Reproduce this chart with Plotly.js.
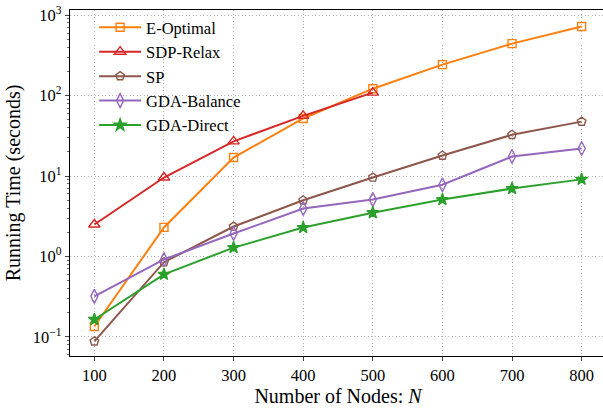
<!DOCTYPE html>
<html><head><meta charset="utf-8">
<script src="https://cdn.plot.ly/plotly-3.0.1.min.js"></script>
<style>html,body{margin:0;padding:0;background:#fff;overflow:hidden}#chart{width:606px;height:409px}</style>
</head><body><div id="chart"></div>
<script>
const nodes = [100, 200, 300, 400, 500, 600, 700, 800];
const sdpNodes = [100, 200, 300, 400, 500];
const eOptimal = [0.135, 2.3, 17, 52, 122, 243, 443, 722];
const sdpRelax = [2.5, 9.6, 27, 56, 109];
const sp = [0.088, 0.85, 2.36, 5.0, 9.6, 18, 32.6, 47.5];
const gdaBalance = [0.32, 0.92, 1.93, 3.95, 5.1, 7.8, 17.5, 22];
const gdaDirect = [0.165, 0.6, 1.29, 2.29, 3.5, 5.1, 7.0, 9.1];
const seriesNames = ['E-Optimal', 'SDP-Relax', 'SP', 'GDA-Balance', 'GDA-Direct'];
const yTickVals = [0.1, 1, 10, 100, 1000];
const yTickText = ['10<sup>−1</sup>', '10<sup>0</sup>', '10<sup>1</sup>', '10<sup>2</sup>', '10<sup>3</sup>'];
const xTickVals = [100, 200, 300, 400, 500, 600, 700, 800];

const minorVals = [];
for (let e = -2; e <= 3; e++) for (let m = 2; m <= 9; m++) minorVals.push(m * Math.pow(10, e));

function tr(x, y, name, color, symbol, size) {
  return {x: x, y: y, name: name, type: 'scatter', mode: 'lines+markers',
    line: {color: color, width: 2},
    marker: {symbol: symbol, size: size, color: color,
             line: {color: color, width: 1.4}}};
}
const data = [
  tr(nodes, eOptimal, seriesNames[0], '#ff7f0e', 'square-open', 8),
  tr(sdpNodes, sdpRelax, seriesNames[1], '#d62728', 'triangle-up-open', 10),
  tr(nodes, sp, seriesNames[2], '#8c564b', 'pentagon-open', 9),
  tr(nodes, gdaBalance, seriesNames[3], '#9467bd', 'diamond-tall-open', 10),
  tr(nodes, gdaDirect, seriesNames[4], '#2ca02c', 'star', 9),
  {x: [nodes[0]], y: [yTickVals[0]], yaxis: 'y2', type: 'scatter', mode: 'markers',
   marker: {opacity: 0}, showlegend: false, hoverinfo: 'skip'}
];
const yRange = [Math.log10(0.058), Math.log10(1160)];
const grid = {showgrid: true, gridcolor: '#b0b0b0', griddash: '1px,2.5px', gridwidth: 1, zeroline: false};
const layout = {
  width: 606, height: 409,
  margin: {l: 70, r: 0, t: 10, b: 53},
  paper_bgcolor: '#fff', plot_bgcolor: '#fff',
  font: {family: 'Liberation Serif, Times New Roman, serif', color: '#000', size: 16},
  showlegend: true,
  legend: {x: 0.045, y: 1.0, xanchor: 'left', yanchor: 'top', bgcolor: 'rgba(255,255,255,0)',
           borderwidth: 0, font: {size: 16.5}, tracegroupgap: 0, itemwidth: 42},
  xaxis: Object.assign({range: [65, 835], tickvals: xTickVals, ticks: 'outside', ticklen: 4, tickwidth: 1,
          showline: true, linecolor: '#000', linewidth: 1.2, mirror: true,
          tickfont: {size: 16.5},
          title: {text: 'Number of Nodes: <i>N</i>', font: {size: 20}, standoff: 2}}, grid),
  yaxis: Object.assign({type: 'log', range: yRange, tickvals: yTickVals, ticktext: yTickText,
          ticks: 'outside', ticklen: 4, tickwidth: 1,
          showline: true, linecolor: '#000', linewidth: 1.2, mirror: true,
          tickfont: {size: 16.5},
          title: {text: 'Running Time (seconds)', font: {size: 20}, standoff: 6}}, grid),
  yaxis2: {type: 'log', range: yRange, overlaying: 'y', side: 'left', tickvals: minorVals,
           showticklabels: false, ticks: 'outside', ticklen: 2, tickwidth: 0.8,
           showgrid: false, showline: false, zeroline: false}
};
Plotly.newPlot('chart', data, layout, {displayModeBar: false, staticPlot: true});
</script></body></html>
